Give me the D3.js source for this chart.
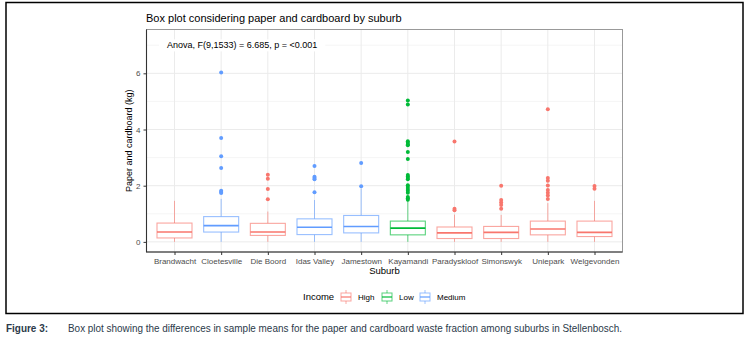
<!DOCTYPE html>
<html>
<head>
<meta charset="utf-8">
<script src="https://cdn.jsdelivr.net/npm/d3@7"></script>
<style>
	body { margin: 0; background: #fff; }
	svg { display: block; font-family: "Liberation Sans", Arial, sans-serif; }
	.grid line { stroke: #ebebeb; }
	.axis text { fill: #4d4d4d; font-size: 8px; }
	.axis line { stroke: #333; }
	.axis path { display: none; }
</style>
</head>
<body>
<div id="chart"></div>
<script>
//Data
var suburbs = ["Brandwacht", "Cloetesville", "Die Boord", "Idas Valley", "Jamestown",
	"Kayamandi", "Paradyskloof", "Simonswyk", "Uniepark", "Welgevonden"];
var income = ["High", "Medium", "High", "Medium", "Medium", "Low", "High", "High", "High", "High"];
// lower whisker, Q1, median, Q3, upper whisker (kg)
var lowerWhisker = [0, 0, 0, 0, 0, 0, 0, 0, 0, 0];
var q1 = [0.14, 0.35, 0.23, 0.26, 0.32, 0.25, 0.12, 0.12, 0.25, 0.19];
var medians = [0.35, 0.58, 0.35, 0.52, 0.55, 0.49, 0.32, 0.34, 0.46, 0.34];
var q3 = [0.67, 0.90, 0.66, 0.82, 0.94, 0.74, 0.53, 0.55, 0.74, 0.74];
var upperWhisker = [1.46, 1.53, 1.08, 1.49, 1.90, 1.47, 0.97, 0.96, 1.38, 1.46];
var outliers = [
	[],
	[6.03, 3.70, 3.05, 2.63, 1.82, 1.78, 1.74],
	[2.39, 2.25, 1.88, 1.52],
	[2.70, 2.32, 2.27, 2.23, 1.77],
	[2.81, 1.98],
	[5.03, 4.89, 3.58, 3.53, 3.47, 3.44, 3.20, 2.95, 2.38, 2.33, 2.27, 2.23, 2.02, 1.95, 1.88, 1.82, 1.75, 1.60, 1.55, 1.50],
	[3.57, 1.18, 1.13],
	[2.00, 1.49, 1.40, 1.31, 1.18],
	[4.72, 2.27, 2.18, 2.01, 1.85, 1.75, 1.65, 1.53],
	[1.99, 1.89]
];
var incomeLevels = ["High", "Low", "Medium"];
var incomeColours = ["#F8766D", "#00BA38", "#619CFF"];
var yTicks = [0, 2, 4, 6];
var yMinor = [1, 3, 5, 7];
var anovaLabel = "Anova, F(9,1533) = 6.685, p = <0.001";
var anovaY = 7;

//SVG setup
var width = 752, height = 340;
var panel = { left: 146.5, right: 622.5, top: 29.5, bottom: 252 };

var svg = d3.select("#chart")
	.append("svg")
	.attr("width", width)
	.attr("height", height);

//Scales
var x = d3.scalePoint()
	.domain(suburbs)
	.range([panel.left, panel.right])
	.padding(0.6);
var step = x.step();

var y = d3.scaleLinear()
	.domain([-0.36, 7.56])
	.range([panel.bottom, panel.top]);

var colour = d3.scaleOrdinal()
	.domain(incomeLevels)
	.range(incomeColours);

//Outer frame
svg.append("rect")
	.attr("x", 6).attr("y", 2.5)
	.attr("width", 737).attr("height", 311)
	.attr("fill", "none")
	.attr("stroke", "#000")
	.attr("stroke-width", 1.5);

//Title
svg.append("text")
	.attr("x", 146)
	.attr("y", 22)
	.attr("font-size", "11px")
	.attr("fill", "#000")
	.text("Box plot considering paper and cardboard by suburb");

//Grid
var grid = svg.append("g").attr("class", "grid");
grid.selectAll(".minor")
	.data(yMinor)
	.enter().append("line")
	.attr("x1", panel.left).attr("x2", panel.right)
	.attr("y1", function(d) { return y(d); })
	.attr("y2", function(d) { return y(d); })
	.attr("stroke-width", 0.5);
grid.selectAll(".major")
	.data(yTicks)
	.enter().append("line")
	.attr("x1", panel.left).attr("x2", panel.right)
	.attr("y1", function(d) { return y(d); })
	.attr("y2", function(d) { return y(d); })
	.attr("stroke-width", 1);
grid.selectAll(".vert")
	.data(suburbs)
	.enter().append("line")
	.attr("x1", function(d) { return x(d); })
	.attr("x2", function(d) { return x(d); })
	.attr("y1", panel.top).attr("y2", panel.bottom)
	.attr("stroke-width", 1);

//Anova label with white background
var anova = svg.append("g")
	.attr("transform", "translate(167," + y(anovaY) + ")");
var anovaText = anova.append("text")
	.attr("dy", "0.35em")
	.attr("font-size", "9px")
	.attr("fill", "#000")
	.text(anovaLabel);
var bb = anovaText.node().getBBox();
anova.insert("rect", "text")
	.attr("x", bb.x - 8).attr("y", bb.y - 1)
	.attr("width", bb.width + 16).attr("height", bb.height + 2)
	.attr("fill", "#fff");

//Boxes
var boxW = step * 0.75;
var boxes = svg.selectAll(".box")
	.data(suburbs)
	.enter()
	.append("g")
	.attr("class", "box")
	.attr("transform", function(d) { return "translate(" + x(d) + ",0)"; });

boxes.each(function(d, i) {
	var g = d3.select(this);
	var c = colour(income[i]);
	//whiskers
	g.append("line")
		.attr("y1", y(q3[i])).attr("y2", y(upperWhisker[i]))
		.attr("stroke", c).attr("stroke-opacity", 0.6).attr("stroke-width", 1);
	g.append("line")
		.attr("y1", y(q1[i])).attr("y2", y(lowerWhisker[i]))
		.attr("stroke", c).attr("stroke-opacity", 0.6).attr("stroke-width", 1);
	//box
	g.append("rect")
		.attr("x", -boxW / 2)
		.attr("y", y(q3[i]))
		.attr("width", boxW)
		.attr("height", y(q1[i]) - y(q3[i]))
		.attr("fill", "#fff")
		.attr("stroke", c).attr("stroke-opacity", 0.65).attr("stroke-width", 1.1);
	//median
	g.append("line")
		.attr("x1", -boxW / 2).attr("x2", boxW / 2)
		.attr("y1", y(medians[i])).attr("y2", y(medians[i]))
		.attr("stroke", c).attr("stroke-width", 1.6);
	//outliers
	g.selectAll("circle")
		.data(outliers[i])
		.enter().append("circle")
		.attr("cy", function(v) { return y(v); })
		.attr("r", 2)
		.attr("fill", c);
});

//Panel border
svg.append("rect")
	.attr("x", panel.left).attr("y", panel.top)
	.attr("width", panel.right - panel.left)
	.attr("height", panel.bottom - panel.top)
	.attr("fill", "none")
	.attr("stroke", "#999")
	.attr("stroke-width", 1);
svg.append("path")
	.attr("d", "M" + panel.left + "," + panel.top + "V" + panel.bottom + "H" + panel.right)
	.attr("fill", "none")
	.attr("stroke", "#333")
	.attr("stroke-width", 1.1);

//Axes
svg.append("g")
	.attr("class", "x axis")
	.attr("transform", "translate(0," + panel.bottom + ")")
	.call(d3.axisBottom(x).tickSize(3).tickPadding(3));

svg.append("g")
	.attr("class", "y axis")
	.attr("transform", "translate(" + panel.left + ",0)")
	.call(d3.axisLeft(y).tickValues(yTicks).tickSize(3).tickPadding(3));

//Axis titles
svg.append("text")
	.attr("x", (panel.left + panel.right) / 2)
	.attr("y", 274)
	.attr("text-anchor", "middle")
	.attr("font-size", "9.5px")
	.attr("fill", "#000")
	.text("Suburb");

svg.append("text")
	.attr("transform", "translate(132," + (panel.top + panel.bottom) / 2 + ") rotate(-90)")
	.attr("text-anchor", "middle")
	.attr("font-size", "9px")
	.attr("fill", "#000")
	.text("Paper and cardboard (kg)");

//Legend
var legend = svg.append("g")
	.attr("transform", "translate(303,297)");
legend.append("text")
	.attr("dy", "0.35em")
	.attr("font-size", "9.5px")
	.attr("fill", "#000")
	.text("Income");
var legendX = [37, 78, 116];
var keys = legend.selectAll(".key")
	.data(incomeLevels)
	.enter()
	.append("g")
	.attr("class", "key")
	.attr("transform", function(d, i) { return "translate(" + legendX[i] + ",0)"; });
keys.append("line")
	.attr("x1", 6).attr("x2", 6).attr("y1", -7).attr("y2", 7)
	.attr("stroke", function(d) { return colour(d); })
	.attr("stroke-opacity", 0.6);
keys.append("rect")
	.attr("x", 1).attr("y", -4)
	.attr("width", 10).attr("height", 8)
	.attr("fill", "#fff")
	.attr("stroke", function(d) { return colour(d); })
	.attr("stroke-opacity", 0.65);
keys.append("line")
	.attr("x1", 1).attr("x2", 11).attr("y1", 0).attr("y2", 0)
	.attr("stroke", function(d) { return colour(d); })
	.attr("stroke-width", 1.2);
keys.append("text")
	.attr("x", 18)
	.attr("dy", "0.35em")
	.attr("font-size", "8px")
	.attr("fill", "#000")
	.text(function(d) { return d; });

//Caption (condensed face, squeezed to the width it has in the figure)
var caption = svg.append("g")
	.attr("font-family", "'Liberation Sans Narrow', 'Liberation Sans', sans-serif")
	.attr("font-size", "11px")
	.attr("fill", "#2b3a4a");
caption.append("text")
	.attr("x", 6).attr("y", 332)
	.attr("font-weight", "bold")
	.attr("textLength", 42)
	.attr("lengthAdjust", "spacingAndGlyphs")
	.text("Figure 3:");
caption.append("text")
	.attr("x", 68).attr("y", 332)
	.attr("textLength", 554)
	.attr("lengthAdjust", "spacingAndGlyphs")
	.text("Box plot showing the differences in sample means for the paper and cardboard waste fraction among suburbs in Stellenbosch.");
</script>
</body>
</html>
